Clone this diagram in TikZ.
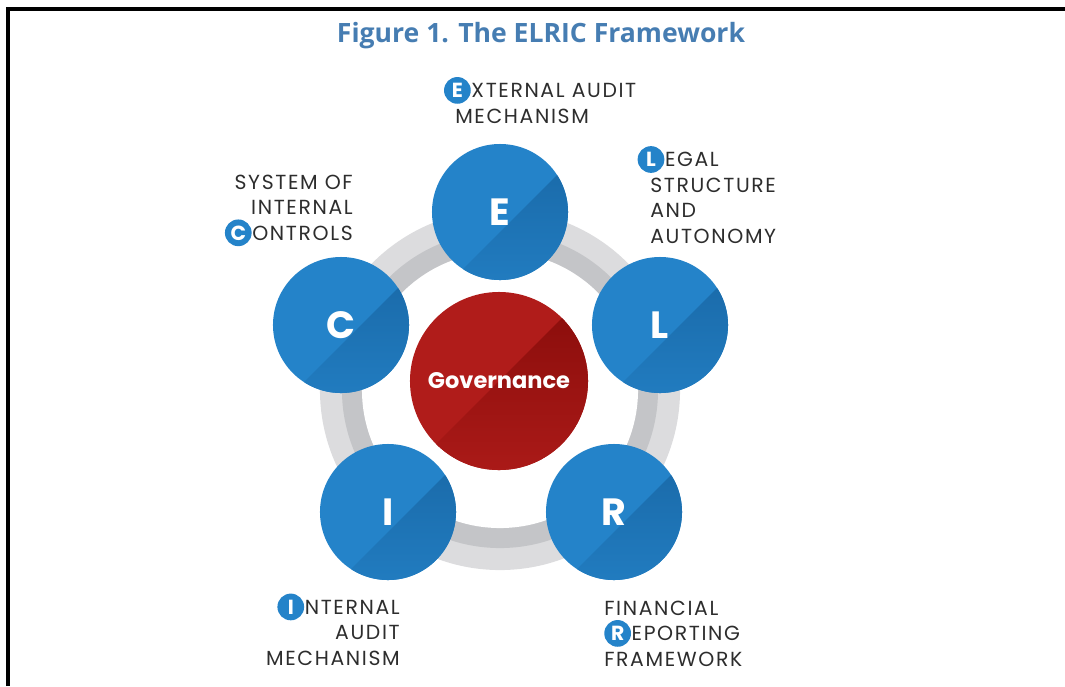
\documentclass[tikz,border=0pt]{standalone}
\usepackage{fontspec}
\setmainfont{Poppins}
\newfontfamily\capfont{Poppins}[LetterSpace=8]
\newfontfamily\titlefont{Open Sans}
\usepackage{tikz}
\usetikzlibrary{calc}

\definecolor{ttlblue}{RGB}{70,125,178}
\definecolor{ltblue}{RGB}{36,131,201}
\definecolor{dkblue}{RGB}{22,96,156}
\definecolor{ltred}{RGB}{176,28,26}
\definecolor{dkred}{RGB}{130,10,8}
\definecolor{ringout}{RGB}{220,220,222}
\definecolor{ringin}{RGB}{196,197,200}
\definecolor{txtgray}{RGB}{45,45,45}

\newcommand{\badge}[1]{\tikz[baseline=(bdg.base)]\node[circle,fill=ltblue,text=white,inner sep=0pt,minimum size=19pt,font=\bfseries](bdg){#1};\hspace{0.5pt}}

\begin{document}
\begin{tikzpicture}[x=0.025cm,y=-0.025cm]
\tikzstyle{letter} = [circle, fill=ltblue, minimum size=3.4cm, inner sep=0pt, text=white, font=\fontsize{27}{27}\selectfont\bfseries,
  path picture={\shade[top color=dkblue, bottom color=ltblue] ([xshift=-2.5cm,yshift=-3cm]path picture bounding box.center) -- ([xshift=3.5cm,yshift=3cm]path picture bounding box.center) -- ([xshift=3.5cm,yshift=-3cm]path picture bounding box.center) -- cycle;}]
\tikzstyle{hub} = [circle, fill=ltred, minimum size=4.45cm, inner sep=0pt, text=white, font=\fontsize{16}{16}\selectfont\bfseries,
  path picture={\shade[top color=dkred, bottom color=ltred] ([xshift=-3cm,yshift=-3cm]path picture bounding box.center) -- ([xshift=3cm,yshift=3cm]path picture bounding box.center) -- ([xshift=3cm,yshift=-3cm]path picture bounding box.center) -- cycle;}]
\tikzstyle{caption} = [inner sep=0pt, text=txtgray, font=\capfont\fontsize{14.5}{18.1}\selectfont]
\useasboundingbox (0,0) rectangle (1065,686);
\draw[line width=2.2pt] (8,686) -- (8,9) -- (1065,9);
\node[anchor=base, text=ttlblue, font=\titlefont\bfseries\fontsize{18.9}{24}\selectfont] (title) at (541,42) {Figure 1. The ELRIC Framework};
\coordinate (ctr) at (500,390);
\fill[ringout] (ctr) circle (4.5cm);
\fill[ringin] (ctr) circle (3.95cm);
\fill[white] (ctr) circle (3.45cm);
\node[hub] (gov) at (499,381) {Governance};
\node[letter] (E) at (500,212) {E};
\node[letter] (L) at (660,325) {L};
\node[letter] (R) at (614,512) {R};
\node[letter] (I) at (388,512) {I};
\node[letter] (C) at (341,325) {C};
\node[caption, anchor=base west, align=left] (Etxt) at (455,123) {\hspace*{-8pt}\badge{E}XTERNAL AUDIT\\MECHANISM};
\node[caption, anchor=base west, align=left] (Ltxt) at (650,243) {\hspace*{-9pt}\badge{L}EGAL\\STRUCTURE\\AND\\AUTONOMY};
\node[caption, anchor=base east, align=right] (Ctxt) at (353,240) {SYSTEM OF\\INTERNAL\\\badge{C}ONTROLS};
\node[caption, anchor=base east, align=right] (Itxt) at (400,665) {\badge{I}NTERNAL\\AUDIT\\MECHANISM};
\node[caption, anchor=base west, align=left] (Rtxt) at (604,666) {FINANCIAL\\\badge{R}EPORTING\\FRAMEWORK};
\end{tikzpicture}
\end{document}
